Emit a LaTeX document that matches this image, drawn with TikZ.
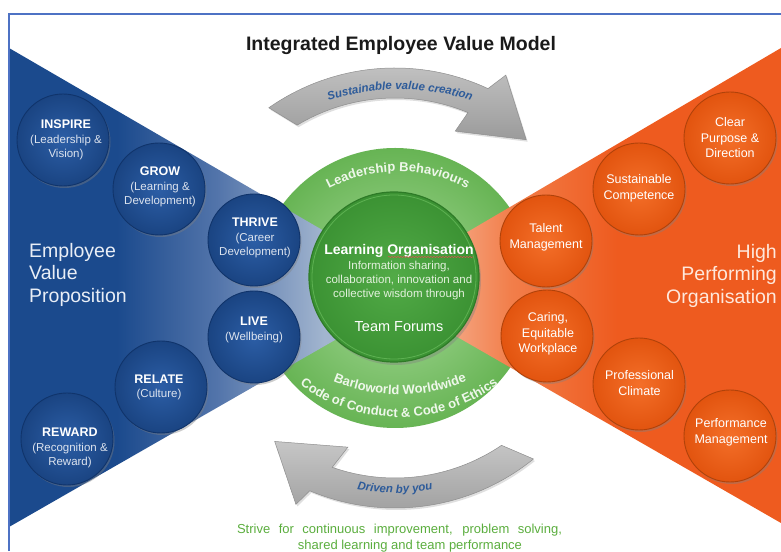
\documentclass[tikz,border=0pt]{standalone}
\usepackage{fontspec}
\setmainfont{Liberation Sans}
\usetikzlibrary{decorations.text,decorations.pathmorphing,shadows}

% palette
\definecolor{framec}{HTML}{4E72C4}
\definecolor{titlec}{HTML}{1A1A1A}
\definecolor{bdark}{HTML}{1B4A8D}
\definecolor{bmid}{HTML}{5274AA}
\definecolor{blight}{HTML}{A2B5CF}
\definecolor{olight}{HTML}{F7C4AD}
\definecolor{olight2}{HTML}{F5AE8E}
\definecolor{omid}{HTML}{F27E4A}
\definecolor{odark}{HTML}{EE5B1F}
\definecolor{ringout}{HTML}{67B454}
\definecolor{ringin}{HTML}{A9DB9B}
\definecolor{loin}{HTML}{52AB47}
\definecolor{loout}{HTML}{3B9233}
\definecolor{lorim}{HTML}{2E7B27}
\definecolor{lohigh}{HTML}{6CBF5F}
\definecolor{bcin}{HTML}{2C5EA6}
\definecolor{bcout}{HTML}{1A4482}
\definecolor{bcrim}{HTML}{10346B}
\definecolor{ocin}{HTML}{F46F29}
\definecolor{ocout}{HTML}{E2540F}
\definecolor{ocrim}{HTML}{B0420A}
\definecolor{arrowtop}{HTML}{C6C6C6}
\definecolor{arrowbot}{HTML}{9B9B9B}
\definecolor{arrowrim}{HTML}{8E8E8E}
\definecolor{arrowtxt}{HTML}{2D5B9A}
\definecolor{ringtxt}{HTML}{EEF7EA}
\definecolor{strivec}{HTML}{5BAE3E}
\definecolor{evptxt}{HTML}{E9EEF6}
\definecolor{hpotxt}{HTML}{FEE8DC}
\definecolor{lobody}{HTML}{E3F1DD}
\definecolor{bparen}{HTML}{DCE3EE}
\definecolor{spellc}{HTML}{D9534F}

% fan shadings: dark at the outer edge, pale towards the centre
\pgfdeclarehorizontalshading{bluefan}{100bp}{color(0bp)=(bdark); color(25bp)=(bdark); color(38bp)=(bdark); color(50bp)=(bmid); color(63bp)=(blight); color(75bp)=(blight); color(100bp)=(blight)}
\pgfdeclarehorizontalshading{orangefan}{100bp}{color(0bp)=(olight); color(25bp)=(olight); color(33bp)=(olight2); color(42bp)=(omid); color(55bp)=(odark); color(100bp)=(odark)}

\newcommand\capword[1]{{\fontsize{12.5}{14.5}\selectfont\bfseries\color{white}#1}}

\tikzset{
  fanarrow/.style={top color=arrowtop, bottom color=arrowbot, draw=arrowrim, line width=0.5pt,
    drop shadow={shadow xshift=1.5pt, shadow yshift=-2pt, opacity=0.25}},
  arrowtext/.style={decorate, decoration={text along path, text align=center,
    text={|\fontsize{11.5}{13}\selectfont\bfseries\itshape\color{arrowtxt}|#1}}},
  ringtext/.style={decorate, decoration={text along path, text align=center,
    text={|\fontsize{13}{15}\selectfont\bfseries\color{ringtxt}|#1}}},
  bluedisc/.style={circle, minimum size=92pt, inner sep=0pt, inner color=bcin, outer color=bcout,
    draw=bcrim, line width=0.9pt, drop shadow={shadow xshift=1.5pt, shadow yshift=-2pt, opacity=0.4}},
  orangedisc/.style={circle, minimum size=92pt, inner sep=0pt, inner color=ocin, outer color=ocout,
    draw=ocrim, line width=0.9pt, drop shadow={shadow xshift=1.5pt, shadow yshift=-2pt, opacity=0.4}},
  bluelabel/.style={align=center, text=bparen, font=\fontsize{11.5}{14.5}\selectfont, inner sep=0pt},
  orangelabel/.style={align=center, text=white, font=\fontsize{12.5}{15.5}\selectfont, inner sep=0pt},
  biglabel/.style={font=\fontsize{19.5}{22.5}\selectfont, inner sep=0pt},
}

\begin{document}
\begin{tikzpicture}[x=1pt,y=1pt]
\useasboundingbox (0,0) rectangle (781,551);
\fill[white] (0,0) rectangle (781,551);

% title
\node[font=\fontsize{19.5}{22}\selectfont\bfseries, text=titlec] (title) at (401,505) {Integrated Employee Value Model};

% curved grey arrows around the ring
\begin{scope}[shift={(395,263)}]
  \path[fanarrow] (125:220) arc[start angle=125, end angle=65, radius=220]
    -- (62.5:240) -- (48.5:198) -- (69:168) -- (67.4:190)
    arc[start angle=67.4, end angle=121, radius=190] -- cycle;
  \path[fanarrow] (-51:220) arc[start angle=-51, end angle=-112.8, radius=220]
    -- (-114.6:238) -- (-128.1:195) -- (-106.5:166) -- (-109.3:190)
    arc[start angle=-109.3, end angle=-55.9, radius=190] -- cycle;
\end{scope}
\path[arrowtext={Sustainable value creation}] ([shift={(118:227)}]400,234.5) arc[start angle=118, end angle=62, radius=227];
\path[arrowtext={Driven by you}] ([shift={(-114:205)}]395,263) arc[start angle=-114, end angle=-66, radius=205];

% light green ring
\node[circle, minimum size=280pt, inner sep=0pt, inner color=ringin, outer color=ringout] (ring) at (395,263) {};

% the two fans
\shade[shading=orangefan] (781,503) -- (781,28) -- (372,263) -- cycle;
\shade[shading=bluefan] (9,503) -- (9,24) -- (424,262) -- cycle;

% frame
\draw[framec, line width=1.4pt] (9,0) -- (9,537) -- (781,537);

% ring captions
\path[ringtext={Leadership Behaviours}] ([shift={(125:148)}]398,231.5) arc[start angle=125, end angle=55, radius=148];
\path[ringtext={Barloworld Worldwide}] ([shift={(-125:174)}]400,330.4) arc[start angle=-125, end angle=-55, radius=174];
\path[ringtext={Code of Conduct {\&} Code of Ethics}] ([shift={(-132:167.5)}]399,301.3) arc[start angle=-132, end angle=-48, radius=167.5];

% centre disc
\node[circle, minimum size=170pt, inner sep=0pt, inner color=loin, outer color=loout, draw=lorim, line width=1.2pt,
  drop shadow={shadow xshift=2pt, shadow yshift=-3pt, opacity=0.4}] (lo) at (394,274) {};
\draw[lohigh, line width=0.8pt, opacity=0.7] (lo.center) circle[radius=82];
\node[font=\fontsize{14}{16}\selectfont\bfseries, text=white] (lotitle) at (399,300.5) {Learning Organisation};
\draw[spellc, line width=0.5pt, decorate, decoration={snake, amplitude=0.6pt, segment length=3pt}] (388,294) -- (473,294);
\node[align=center, text=lobody, font=\fontsize{11.5}{14}\selectfont] (lobodytext) at (399,270) {Information sharing,\\collaboration, innovation and\\collective wisdom through};
\node[font=\fontsize{14.5}{16}\selectfont, text=white] (loteam) at (399,224) {Team Forums};

% employee value proposition discs
\node[bluedisc] (inspire) at (63,411) {};
\node[bluedisc] (grow) at (159,362) {};
\node[bluedisc] (thrive) at (254,311) {};
\node[bluedisc] (live) at (254,214) {};
\node[bluedisc] (relate) at (161,164) {};
\node[bluedisc] (reward) at (67,112) {};
\node[bluelabel] (tinspire) at (66,411) {\capword{INSPIRE}\\(Leadership \&\\Vision)};
\node[bluelabel] (tgrow) at (160,364) {\capword{GROW}\\(Learning \&\\Development)};
\node[bluelabel] (tthrive) at (255,313) {\capword{THRIVE}\\(Career\\Development)};
\node[bluelabel] (tlive) at (254,221) {\capword{LIVE}\\(Wellbeing)};
\node[bluelabel] (trelate) at (159,163.5) {\capword{RELATE}\\(Culture)};
\node[bluelabel] (treward) at (70,103) {\capword{REWARD}\\(Recognition \&\\Reward)};

% high performing organisation discs
\node[orangedisc] (clear) at (730,413) {};
\node[orangedisc] (sustain) at (639,362) {};
\node[orangedisc] (talent) at (546,310) {};
\node[orangedisc] (caring) at (547,215) {};
\node[orangedisc] (climate) at (639,167) {};
\node[orangedisc] (perform) at (730,115) {};
\node[orangelabel] (tclear) at (730,413) {Clear\\Purpose \&\\Direction};
\node[orangelabel] (tsustain) at (639,362.5) {Sustainable\\Competence};
\node[orangelabel] (ttalent) at (546,313.5) {Talent\\Management};
\node[orangelabel] (tcaring) at (548,217) {Caring,\\Equitable\\Workplace};
\node[orangelabel] (tclimate) at (639.5,168) {Professional\\Climate};
\node[orangelabel] (tperform) at (731,118.5) {Performance\\Management};

% side headings
\node[biglabel, text=evptxt, align=left, anchor=west] (evp) at (29,276.5) {Employee\\Value\\Proposition};
\node[biglabel, text=hpotxt, align=right, anchor=east] (hpo) at (777,275.5) {High\\Performing\\Organisation};

% footer
\node[font=\fontsize{13}{15}\selectfont, text=strivec] (strive1) at (399.5,21) {\makebox[325pt][s]{Strive for continuous improvement, problem solving,}};
\node[font=\fontsize{13}{15}\selectfont, text=strivec] (strive2) at (410,5) {shared learning and team performance};
\end{tikzpicture}
\end{document}
